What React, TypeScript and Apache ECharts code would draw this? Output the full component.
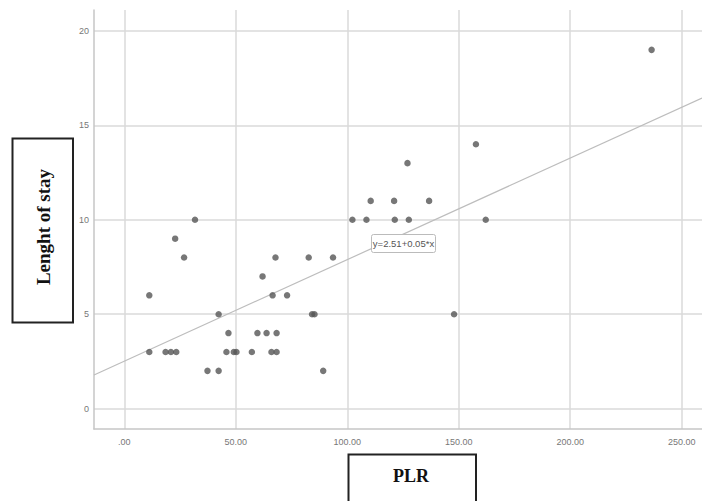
import React, { useEffect, useRef } from "react";
import * as echarts from "echarts";

// Data
const plrValues: number[] = [
  236.5, 157.7, 127, 110.5, 121, 136.7, 102.3, 108.6, 121.3, 127.6, 162.1,
  31.7, 22.8, 26.8, 67.8, 82.7, 93.6, 62, 11.2, 66.5, 73, 42.3, 84.2, 85.3,
  147.9, 46.7, 59.7, 63.8, 68.3, 11.2, 18.5, 20.9, 23.3, 45.8, 49.1, 50.3,
  57.2, 66, 68.3, 37.3, 42.3, 89.2,
];
const stayValues: number[] = [
  19, 14, 13, 11, 11, 11, 10, 10, 10, 10, 10,
  10, 9, 8, 8, 8, 8, 7, 6, 6, 6, 5, 5, 5,
  5, 4, 4, 4, 4, 3, 3, 3, 3, 3, 3, 3,
  3, 3, 3, 2, 2, 2,
];
const xTicks: number[] = [0, 50, 100, 150, 200, 250];
const yTicks: number[] = [0, 5, 10, 15, 20];
const fitIntercept = 2.51;
const fitSlope = 0.0538;
const equationText = "y=2.51+0.05*x";
const xTitle = "PLR";
const yTitle = "Lenght of stay";

const X_MIN = -13.6;
const X_MAX = 259.1;
const Y_MIN = -1.08;
const Y_MAX = 21.11;

export default function App() {
  const ref = useRef<HTMLDivElement>(null);
  useEffect(() => {
    if (!ref.current) return;
    const chart = echarts.init(ref.current, null, { renderer: "svg" });
    const points = plrValues.map((x, i) => [x, stayValues[i]]);
    const fitLine = [
      [X_MIN, fitIntercept + fitSlope * X_MIN],
      [X_MAX, fitIntercept + fitSlope * X_MAX],
    ];
    const labelFont = {
      fontFamily: "Liberation Sans, Arial, sans-serif",
      fontSize: 9,
      color: "#777",
    };
    chart.setOption({
      animation: false,
      backgroundColor: "#fff",
      grid: { left: 94, top: 10, right: 0, bottom: 72 },
      xAxis: {
        type: "value",
        min: X_MIN,
        max: X_MAX,
        axisLine: { show: true, onZero: false, lineStyle: { color: "#c6c6c6", width: 1.5 } },
        axisTick: { show: false, customValues: xTicks },
        axisLabel: {
          ...labelFont,
          margin: 8,
          customValues: xTicks,
          formatter: (v: number) => (v === 0 ? ".00" : v.toFixed(2)),
        },
        splitLine: { show: true, lineStyle: { color: "#dadada", width: 1.5 } },
      },
      yAxis: {
        type: "value",
        min: Y_MIN,
        max: Y_MAX,
        axisLine: { show: true, onZero: false, lineStyle: { color: "#c6c6c6", width: 1.5 } },
        axisTick: { show: false, customValues: yTicks },
        axisLabel: {
          ...labelFont,
          margin: 5,
          customValues: yTicks,
          formatter: (v: number) => String(v),
        },
        splitLine: { show: true, lineStyle: { color: "#dadada", width: 1.5 } },
      },
      series: [
        {
          type: "line",
          data: fitLine,
          symbol: "none",
          silent: true,
          z: 3,
          lineStyle: { color: "#bdbdbd", width: 1.2 },
        },
        {
          type: "scatter",
          data: points,
          symbol: "circle",
          symbolSize: 6.5,
          z: 4,
          itemStyle: { color: "#555" },
        },
      ],
      graphic: [
        {
          type: "group",
          z: 100,
          children: [
            {
              type: "rect",
              shape: { x: 371.5, y: 234.5, width: 64, height: 18, r: 2 },
              style: { fill: "#fff", stroke: "#bbbbbb", lineWidth: 1 },
              z: 100,
            },
            {
              type: "text",
              x: 403.5,
              y: 243.5,
              z: 101,
              style: {
                text: equationText,
                fill: "#555",
                font: "9.5px 'Liberation Sans', Arial, sans-serif",
                align: "center",
                verticalAlign: "middle",
              },
            },
            {
              type: "rect",
              shape: { x: 12.5, y: 138.5, width: 60.5, height: 184 },
              style: { fill: "#fff", stroke: "#222", lineWidth: 2 },
              z: 100,
            },
            {
              type: "text",
              x: 43,
              y: 227,
              rotation: Math.PI / 2,
              z: 101,
              style: {
                text: yTitle,
                fill: "#111",
                font: "bold 19px 'Liberation Serif', 'Times New Roman', serif",
                align: "center",
                verticalAlign: "middle",
              },
            },
            {
              type: "rect",
              shape: { x: 348.5, y: 454.5, width: 127.5, height: 60 },
              style: { fill: "#fff", stroke: "#222", lineWidth: 2 },
              z: 100,
            },
            {
              type: "text",
              x: 411,
              y: 476,
              z: 101,
              style: {
                text: xTitle,
                fill: "#111",
                font: "bold 18px 'Liberation Serif', 'Times New Roman', serif",
                align: "center",
                verticalAlign: "middle",
              },
            },
          ],
        },
      ],
    });
    return () => chart.dispose();
  }, []);
  return (
    <div
      ref={ref}
      style={{ position: "fixed", left: 0, top: 0, width: 702, height: 501, background: "#fff" }}
    />
  );
}
